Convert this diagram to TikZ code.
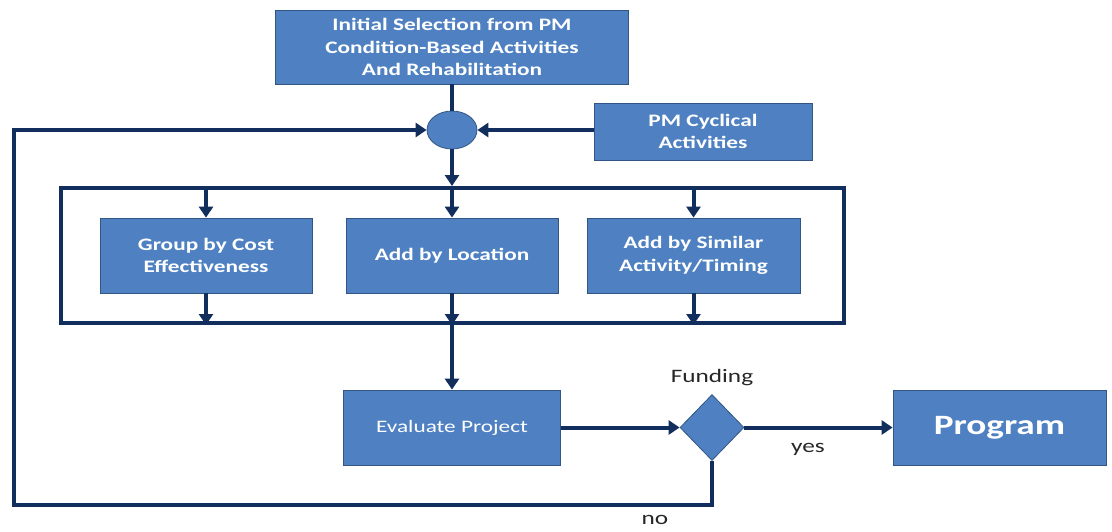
\documentclass[tikz,border=0pt]{standalone}
\usepackage{fontspec}
\setmainfont[FakeStretch=1.33]{Carlito}
\usetikzlibrary{arrows.meta,shapes.geometric}
\definecolor{boxblue}{RGB}{79,129,194}
\definecolor{boxedge}{RGB}{50,85,130}
\definecolor{navy}{RGB}{18,46,92}
\tikzset{
  blk/.style={draw=boxedge, line width=0.8pt, fill=boxblue, text=white, align=center,
    inner sep=0pt, font=\fontsize{17.5}{22.5}\selectfont\bfseries},
  line/.style={draw=navy, line width=4pt},
  flow/.style={line, -{Triangle[length=11pt,width=14pt]}},
  lbl/.style={font=\fontsize{19}{22}\selectfont, text=black!85},
}
\begin{document}
\begin{tikzpicture}[x=1pt,y=-1pt]
\useasboundingbox (0,0) rectangle (1112,531);
\node[blk, minimum width=353pt, minimum height=74pt] (top) at (452,47)
  {Initial Selection from PM\\Condition-Based Activities\\And Rehabilitation};
\node[blk, minimum width=218pt, minimum height=57pt] (pmc) at (703,131.5)
  {PM Cyclical\\Activities};
\node[ellipse, draw=boxedge, line width=0.8pt, fill=boxblue, minimum width=50pt, minimum height=38pt, inner sep=0pt] (join) at (452,130) {};
\node[draw=navy, line width=4pt, minimum width=783pt, minimum height=135pt, inner sep=0pt] (cont) at (452,255.5) {};
\node[blk, minimum width=212pt, minimum height=75pt] (g1) at (206,255.5) {Group by Cost\\Effectiveness};
\node[blk, minimum width=212pt, minimum height=75pt] (g2) at (452,255.5) {Add by Location};
\node[blk, minimum width=213pt, minimum height=75pt] (g3) at (693.5,255.5) {Add by Similar\\Activity/Timing};
\node[blk, minimum width=217pt, minimum height=75pt, font=\fontsize{17.5}{22}\selectfont] (eval) at (452,427.5) {Evaluate Project};
\node[diamond, draw=boxedge, line width=0.8pt, fill=boxblue, minimum width=64pt, minimum height=66pt, inner sep=0pt] (dia) at (712,427.5) {};
\node[blk, minimum width=213pt, minimum height=75pt, font=\fontsize{28}{30}\selectfont\bfseries] (prog) at (999.5,427.5) {Program};
\node[lbl] (fund) at (712,378) {Funding};
\node[lbl] (yes) at (808,449) {yes};
\node[lbl] (no) at (655,520) {no};
\coordinate (c1) at (712,505);
\coordinate (c2) at (14,505);
\coordinate (c3) at (14,130);

\draw[line] (top.south) -- (join.north);
\draw[flow] (pmc.west |- join.east) -- (join.east);
\draw[flow] (join.south) -- (cont.north);
\draw[flow] (g1.north |- cont.north) -- (g1.north);
\draw[flow] (g2.north |- cont.north) -- (g2.north);
\draw[flow] (g3.north |- cont.north) -- (g3.north);
\draw[flow] (g1.south) -- (g1.south |- cont.south);
\draw[flow] (g2.south) -- (g2.south |- cont.south);
\draw[flow] (g3.south) -- (g3.south |- cont.south);
\draw[flow] (cont.south) -- (eval.north);
\draw[flow] (eval.east) -- (dia.west);
\draw[flow] (dia.east) -- (prog.west);
\draw[flow] (dia.south) -- (c1) -- (c2) -- (c3) -- (join.west);
\end{tikzpicture}
\end{document}
